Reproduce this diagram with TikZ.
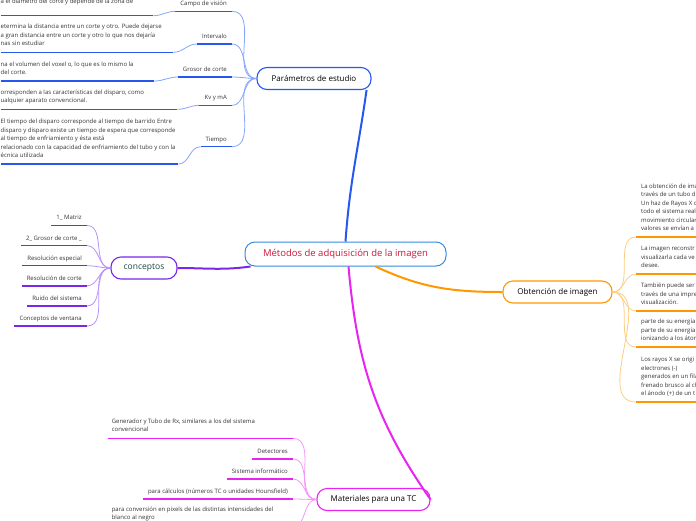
\documentclass[tikz,border=0pt]{standalone}
\usepackage{fontspec}
\setmainfont{Open Sans}
\usepackage{tikz}

\definecolor{mainblue}{RGB}{52,140,222}
\definecolor{maintext}{RGB}{204,22,56}
\definecolor{parblue}{RGB}{38,88,240}
\definecolor{parlight}{RGB}{135,165,250}
\definecolor{conpurple}{RGB}{122,38,235}
\definecolor{conlight}{RGB}{185,145,250}
\definecolor{context}{RGB}{22,72,62}
\definecolor{obtorange}{RGB}{255,152,0}
\definecolor{obtlight}{RGB}{255,205,130}
\definecolor{matpink}{RGB}{232,36,240}
\definecolor{matlight}{RGB}{245,150,248}

\begin{document}
\begin{tikzpicture}[x=1pt,y=1pt,
topic/.style={draw, line width=1.1pt, rounded corners=10pt, fill=white, minimum height=22pt, inner sep=2pt, font=\fontsize{8}{10}\selectfont},
leaf/.style={anchor=south east, inner xsep=5pt, inner ysep=2.8pt, execute at end node=\strut, font=\fontsize{6}{8.4}\selectfont, text=black!80},
note/.style={anchor=south west, text width=#1, align=flush left, inner xsep=0pt, inner ysep=3.8pt, execute at end node=\strut, font=\fontsize{6}{8.4}\selectfont, text=black!80},
uline/.style={line width=1.5pt},
link/.style={line width=0.8pt},
branch/.style={line width=2pt}
]
\useasboundingbox (0,0) rectangle (696,-520);
\clip (0,0) rectangle (696,-520);

\node[topic, draw=mainblue, line width=1pt, text=maintext, minimum width=201pt, minimum height=24pt, font=\fontsize{9.5}{11}\selectfont] (main) at (345.5,-254) {Métodos de adquisición de la imagen};

% Parametros de estudio
\node[topic, draw=parblue, minimum width=114pt] (par) at (314,-78.5) {Parámetros de estudio};
\node[leaf] (cv) at (232,-11.3) {Campo de visión};
\node[leaf] (iv) at (232,-44) {Intervalo};
\node[leaf] (gc) at (232,-77) {Grosor de corte};
\node[leaf] (kv) at (232,-105.3) {Kv y mA};
\node[leaf] (ti) at (232,-146.7) {Tiempo};
\node[note=152.5pt, inner ysep=9.8pt] (cvn) at (0.5,-15.7) {a el diámetro del corte y depende de la zona de};
\node[note=172.5pt] (ivn) at (0.5,-52.3) {etermina la distancia entre un corte y otro. Puede dejarse\\a gran distancia entre un corte y otro lo que nos dejaría\\nas sin estudiar};
\node[note=153.5pt] (gcn) at (0.5,-81) {na el volumen del voxel o, lo que es lo mismo la\\del corte.};
\node[note=176.5pt] (kvn) at (0.5,-109.3) {orresponden a las características del disparo, como\\ualquier aparato convencional.};
\node[note=177.5pt] (tin) at (0.5,-164) {El tiempo del disparo corresponde al tiempo de barrido Entre\\disparo y disparo existe un tiempo de espera que corresponde\\al tiempo de enfriamiento y ésta está\\relacionado con la capacidad de enfriamiento del tubo y con la\\écnica utilizada};

% conceptos
\node[topic, draw=conpurple, text=context, minimum width=66pt, font=\fontsize{8.5}{10}\selectfont] (con) at (144,-268) {conceptos};
\node[leaf] (c1) at (87,-225.5) {1\_ Matriz};
\node[leaf] (c2) at (87,-245.6) {2\_ Grosor de corte \_};
\node[leaf] (c3) at (87,-265.7) {Resolución especial};
\node[leaf] (c4) at (87,-285.8) {Resolución de corte};
\node[leaf] (c5) at (87,-305.9) {Ruido del sistema};
\node[leaf] (c6) at (87,-326) {Conceptos de ventana};

% Obtencion de imagen
\node[topic, draw=obtorange, minimum width=109pt] (obt) at (557.5,-292) {Obtención de imagen};
\node[note=80pt, inner xsep=5pt] (o1) at (636,-237) {La obtención de imá\\través de un tubo d\\Un haz de Rayos X c\\todo el sistema real\\movimiento circular\\valores se envían a};
\node[note=80pt, inner xsep=5pt] (o2) at (636,-274) {La imagen reconstr\\visualizarla cada ve\\desee.};
\node[note=80pt, inner xsep=5pt] (o3) at (636,-311) {También puede ser\\través de una impre\\visualización.};
\node[note=80pt, inner xsep=5pt] (o4) at (636,-347) {parte de su energía\\parte de su energía\\ionizando a los átor};
\node[note=80pt, inner xsep=5pt] (o5) at (636,-402) {Los rayos X se origi\\electrones (-)\\generados en un fila\\frenado brusco al ch\\el ánodo (+) de un t};

% Materiales
\node[topic, draw=matpink, minimum width=113pt] (mat) at (373.5,-499.5) {Materiales para una TC};
\node[note=177pt, anchor=south east, inner xsep=4pt] (m1) at (293,-438.3) {Generador y Tubo de Rx, similares a los del sistema\\convencional};
\node[leaf] (m2) at (293,-459) {Detectores};
\node[leaf] (m3) at (293,-479) {Sistema informático};
\node[leaf] (m4) at (293,-499) {para cálculos (números TC o unidades Hounsfield)};
\node[note=177pt, anchor=south east, inner xsep=4pt] (m5) at (293,-526.5) {para conversión en pixels de las distintas intensidades del\\blanco al negro};

\draw[branch, parblue] (main.north) to[out=86,in=-98] ([xshift=-5pt]par.south east);
\draw[branch, conpurple] ([xshift=6pt]main.south west) to[out=188,in=0] (con.east);
\draw[branch, obtorange] ([xshift=30pt]main.south) to[out=-25,in=180] (obt.west);
\draw[branch, matpink] ([xshift=3pt]main.south) to[out=-85,in=125] (mat.east);

\foreach \n in {cv,iv,gc,kv,ti}
  \draw[link, parlight] (par.west) to[out=180,in=0] (\n.south east);
\foreach \a/\b in {cvn/cv,ivn/iv,gcn/gc,kvn/kv,tin/ti}
  \draw[link, parlight] (\a.south east) to[out=0,in=180] (\b.south west);
\foreach \n in {cv,iv,gc,kv,ti,cvn,ivn,gcn,kvn,tin}
  \draw[uline, parblue] (\n.south west) -- (\n.south east);

\foreach \n in {c1,c2,c3,c4,c5,c6}
{
  \draw[link, conlight] (con.west) to[out=180,in=0] (\n.south east);
  \draw[uline, conpurple] (\n.south west) -- (\n.south east);
}

\foreach \n in {o1,o2,o3,o4,o5}
{
  \draw[link, obtlight] (obt.east) to[out=0,in=180] (\n.south west);
  \draw[uline, obtorange] (\n.south west) -- (\n.south east);
}

\foreach \n in {m1,m2,m3,m4,m5}
{
  \draw[link, matlight] (mat.west) to[out=180,in=0] (\n.south east);
  \draw[uline, matpink] (\n.south west) -- (\n.south east);
}
\end{tikzpicture}
\end{document}
